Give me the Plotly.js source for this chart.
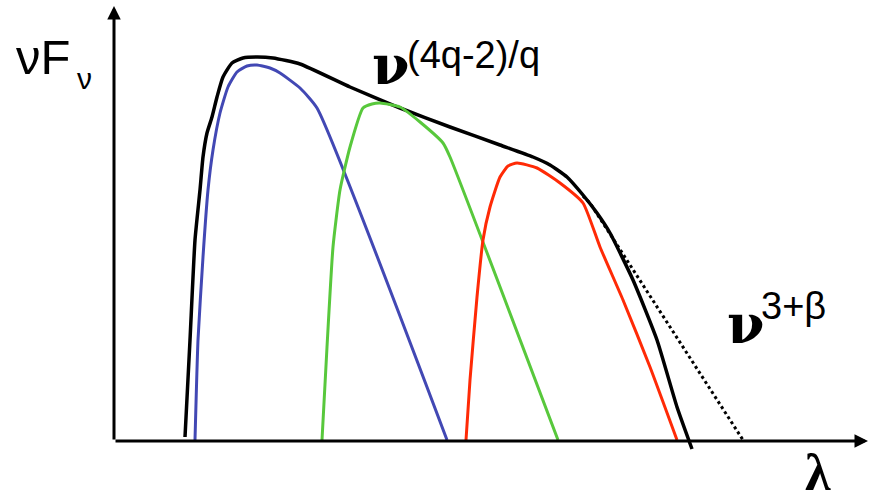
<!DOCTYPE html>
<html>
<head>
<meta charset="utf-8">
<script src="https://cdn.plot.ly/plotly-3.0.1.min.js"></script>
<style>html,body{margin:0;padding:0;background:#fff;}#chart{width:869px;height:490px;}</style>
</head>
<body>
<div id="chart"></div>
<script>
// x = wavelength-axis units, y = flux units (origin at the axes corner)
const envelopeX = [71, 76, 81, 86, 89, 93, 98, 103, 109, 118, 129, 143, 159, 186, 236, 286, 336, 386, 419, 436, 453, 469, 483, 496, 519, 543, 563, 578];
const envelopeY = [4, 101, 201, 251, 284, 308, 324, 344, 364, 378, 383, 384, 383, 377, 354, 333, 314, 296, 284, 276, 264, 246, 228, 208, 161, 101, 34, -8];

const extrapX = [469, 476, 629];
const extrapY = [245, 238, 1];

const blueX = [81, 84, 89, 94, 99, 106, 114, 123, 133, 143, 156, 166, 186, 203, 333];
const blueY = [1, 101, 184, 251, 291, 328, 354, 369, 375, 376, 373, 368, 353, 333, 1];

const greenX = [208, 213, 219, 226, 236, 249, 258, 266, 286, 306, 329, 336, 444];
const greenY = [1, 94, 194, 251, 294, 333, 337, 338, 334, 319, 298, 284, 1];

const redX = [352, 356, 363, 369, 376, 386, 394, 403, 423, 446, 469, 486, 509, 536, 563];
const redY = [1, 61, 144, 201, 234, 264, 275, 278, 273, 258, 238, 194, 141, 74, 1];

const axisLen = {x: 754, y: 435};

const labelYAxisMain = 'νF';
const labelYAxisSub = 'ν';
const labelSlope1Base = '<b>ν</b>';
const labelSlope1Exp = '(4q-2)/q';
const labelSlope2Base = '<b>ν</b>';
const labelSlope2Exp = '3+β';
const labelXAxis = '<b>λ</b>';

const sm = 0.5;
const traces = [
  {x: envelopeX, y: envelopeY, mode: 'lines', line: {color: '#000000', width: 3.5, shape: 'spline', smoothing: sm}},
  {x: extrapX, y: extrapY, mode: 'lines', line: {color: '#000000', width: 3, dash: 'dot'}},
  {x: blueX, y: blueY, mode: 'lines', line: {color: '#4248B4', width: 3, shape: 'spline', smoothing: sm}},
  {x: greenX, y: greenY, mode: 'lines', line: {color: '#58C83C', width: 3, shape: 'spline', smoothing: sm}},
  {x: redX, y: redY, mode: 'lines', line: {color: '#FF2A06', width: 3, shape: 'spline', smoothing: sm}}
];

const sans = 'Liberation Sans, Arial, sans-serif';
const serif = 'DejaVu Serif, serif';
const serif2 = 'Liberation Serif, Times New Roman, serif';

const layout = {
  width: 869, height: 490,
  margin: {l: 0, r: 0, t: 0, b: 0},
  paper_bgcolor: '#ffffff', plot_bgcolor: '#ffffff',
  showlegend: false,
  xaxis: {range: [-114, 755], visible: false, fixedrange: true},
  yaxis: {range: [-49, 441], visible: false, fixedrange: true},
  annotations: [
    {x: axisLen.x, y: 0, ax: 0, ay: 0, xref: 'x', yref: 'y', axref: 'x', ayref: 'y', text: '', showarrow: true, arrowhead: 2, arrowwidth: 3, arrowsize: 0.9, arrowcolor: '#000'},
    {x: 0, y: axisLen.y, ax: 0, ay: 0, xref: 'x', yref: 'y', axref: 'x', ayref: 'y', text: '', showarrow: true, arrowhead: 2, arrowwidth: 3, arrowsize: 0.9, arrowcolor: '#000'},
    {x: -100, y: 384, xref: 'x', yref: 'y', xanchor: 'left', yanchor: 'middle', text: labelYAxisMain, showarrow: false, font: {family: sans, size: 49, color: '#000'}},
    {x: -39, y: 363, xref: 'x', yref: 'y', xanchor: 'left', yanchor: 'middle', text: labelYAxisSub, showarrow: false, font: {family: sans, size: 30, color: '#000'}},
    {x: 256, y: 376, xref: 'x', yref: 'y', xanchor: 'left', yanchor: 'middle', text: labelSlope1Base, showarrow: false, font: {family: serif, size: 54, color: '#000'}},
    {x: 291, y: 386, xref: 'x', yref: 'y', xanchor: 'left', yanchor: 'middle', text: labelSlope1Exp, showarrow: false, font: {family: sans, size: 38, color: '#000'}},
    {x: 611, y: 117, xref: 'x', yref: 'y', xanchor: 'left', yanchor: 'middle', text: labelSlope2Base, showarrow: false, font: {family: serif, size: 54, color: '#000'}},
    {x: 645, y: 135, xref: 'x', yref: 'y', xanchor: 'left', yanchor: 'middle', text: labelSlope2Exp, showarrow: false, font: {family: sans, size: 38, color: '#000'}},
    {x: 689, y: -31, xref: 'x', yref: 'y', xanchor: 'left', yanchor: 'middle', text: labelXAxis, showarrow: false, font: {family: serif2, size: 52, color: '#000'}}
  ]
};

Plotly.newPlot('chart', traces, layout, {staticPlot: true, displayModeBar: false});
</script>
</body>
</html>
